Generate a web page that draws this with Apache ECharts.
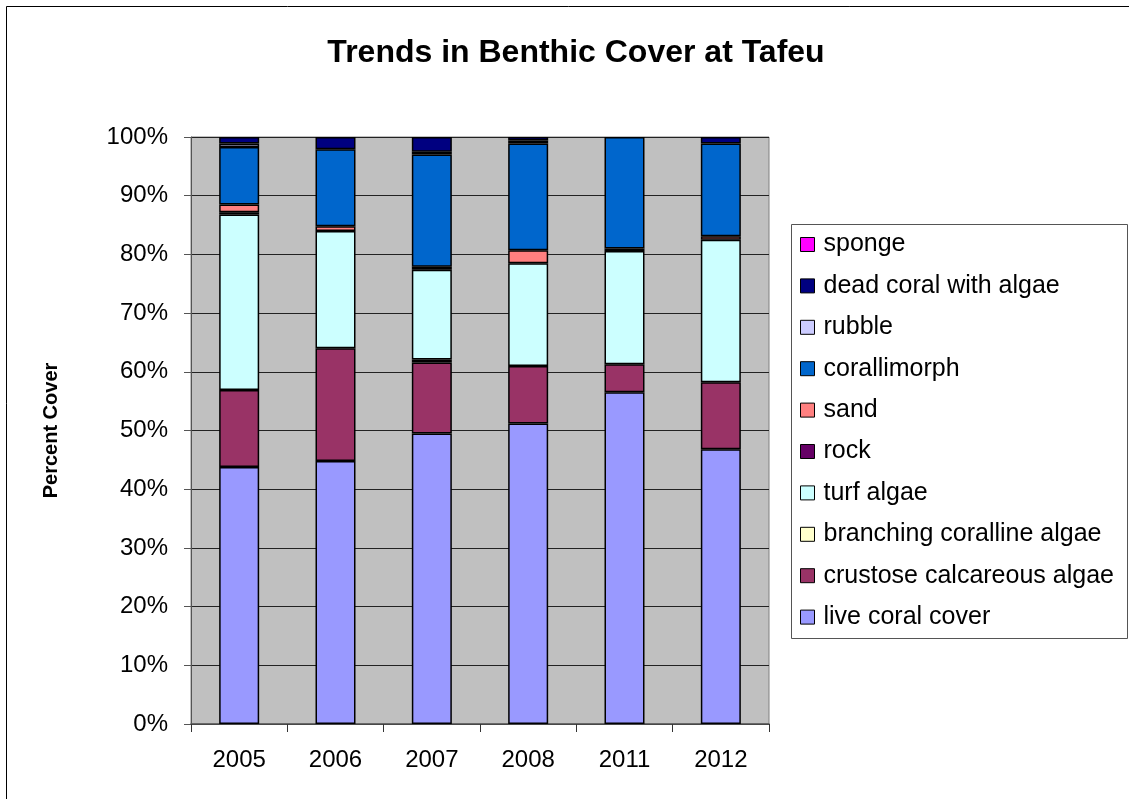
<!DOCTYPE html>
<html>
<head>
<meta charset="utf-8">
<title>Trends in Benthic Cover at Tafeu</title>
<script src="https://cdn.jsdelivr.net/npm/echarts@6/dist/echarts.min.js"></script>
<style>
  html, body { margin: 0; padding: 0; background: #fff; }
  #main { width: 1129px; height: 799px; }
</style>
</head>
<body>
<div id="main"></div>
<script>
  // survey years
  var years = ['2005', '2006', '2007', '2008', '2011', '2012'];

  // percent cover per category, stacked bottom -> top
  var liveCoral = [43.8, 44.8, 49.5, 51.2, 56.5, 46.8];
  var crustose = [13.1, 19.2, 12.1, 9.8, 4.8, 11.4];
  var branching = [0, 0, 0.5, 0, 0, 0];
  var turf = [29.9, 20.0, 15.3, 17.5, 19.3, 24.3];
  var rock = [0.4, 0, 0.5, 0, 0.4, 0];
  var sand = [1.3, 0.8, 0, 2.2, 0, 0.6];
  var corallimorph = [9.8, 13.1, 19.1, 18.2, 19.0, 15.8];
  var rubble = [0.6, 0, 0.5, 0.5, 0, 0];
  var deadCoral = [1.1, 2.1, 2.5, 0.6, 0, 1.1];
  var sponge = [0, 0, 0, 0, 0, 0];

  var yTicks = [0, 10, 20, 30, 40, 50, 60, 70, 80, 90, 100];

  var layers = [
    { name: 'live coral cover', data: liveCoral, color: '#9999FF' },
    { name: 'crustose calcareous algae', data: crustose, color: '#993366' },
    { name: 'branching coralline algae', data: branching, color: '#FFFFCC' },
    { name: 'turf algae', data: turf, color: '#CCFFFF' },
    { name: 'rock', data: rock, color: '#660066' },
    { name: 'sand', data: sand, color: '#FF8080' },
    { name: 'corallimorph', data: corallimorph, color: '#0066CC' },
    { name: 'rubble', data: rubble, color: '#CCCCFF' },
    { name: 'dead coral with algae', data: deadCoral, color: '#000080' },
    { name: 'sponge', data: sponge, color: '#FF00FF' }
  ];

  var font = '"Liberation Sans", Arial, sans-serif';
  var chart = echarts.init(document.getElementById('main'));

  var series = layers.map(function (l) {
    return {
      name: l.name,
      type: 'bar',
      stack: 'cover',
      barWidth: 40,
      // empty layers get no mark, so no stray border line is drawn
      data: l.data.map(function (v) { return v === 0 ? '-' : v; }),
      itemStyle: { color: l.color, borderColor: '#000', borderWidth: 1.5 }
    };
  });

  chart.setOption({
    animation: false,
    backgroundColor: '#fff',
    textStyle: { fontFamily: font },
    title: {
      text: 'Trends in Benthic Cover at Tafeu',
      left: 571,
      top: 32,
      textAlign: 'center',
      textStyle: { fontFamily: font, fontSize: 32, fontWeight: 'bold', color: '#000' }
    },
    graphic: [
      {
        type: 'rect',
        shape: { x: 6.5, y: 6.5, width: 1200, height: 1000 },
        style: { fill: 'none', stroke: '#000', lineWidth: 1 },
        silent: true
      },
      {
        type: 'rect',
        shape: { x: 791.5, y: 224.5, width: 336, height: 414 },
        style: { fill: '#fff', stroke: '#555', lineWidth: 1 },
        silent: true,
        z: -1
      }
    ],
    legend: {
      orient: 'vertical',
      left: 800,
      top: 232,
      padding: 0,
      itemWidth: 14,
      itemHeight: 14,
      itemGap: 16.4,
      icon: 'rect',
      itemStyle: { borderColor: '#000', borderWidth: 1 },
      textStyle: { fontFamily: font, fontSize: 25, lineHeight: 25, color: '#000', padding: [0, 0, 0, 4] },
      data: layers.map(function (l) { return l.name; }).reverse()
    },
    grid: {
      left: 191,
      right: 360,
      top: 137,
      bottom: 75,
      show: true,
      backgroundColor: '#C0C0C0',
      borderColor: '#808080',
      borderWidth: 1
    },
    xAxis: {
      type: 'category',
      data: years,
      axisLine: { lineStyle: { color: '#555', width: 1.5 } },
      axisTick: { show: true, length: 8, lineStyle: { color: '#333' } },
      axisLabel: { fontFamily: font, fontSize: 24, color: '#000', margin: 24 },
      splitLine: { show: false }
    },
    yAxis: {
      type: 'value',
      min: yTicks[0],
      max: yTicks[yTicks.length - 1],
      interval: 10,
      name: 'Percent Cover',
      nameLocation: 'middle',
      nameGap: 130,
      nameRotate: 90,
      nameTextStyle: { fontFamily: font, fontSize: 20, fontWeight: 'bold', color: '#000' },
      axisLine: { show: true, lineStyle: { color: '#555', width: 1 } },
      axisTick: { show: true, length: 7, lineStyle: { color: '#555' } },
      axisLabel: { fontFamily: font, fontSize: 24, color: '#000', margin: 23, formatter: '{value}%' },
      splitLine: { show: true, lineStyle: { color: '#222', width: 1 } }
    },
    series: series
  });
</script>
</body>
</html>
